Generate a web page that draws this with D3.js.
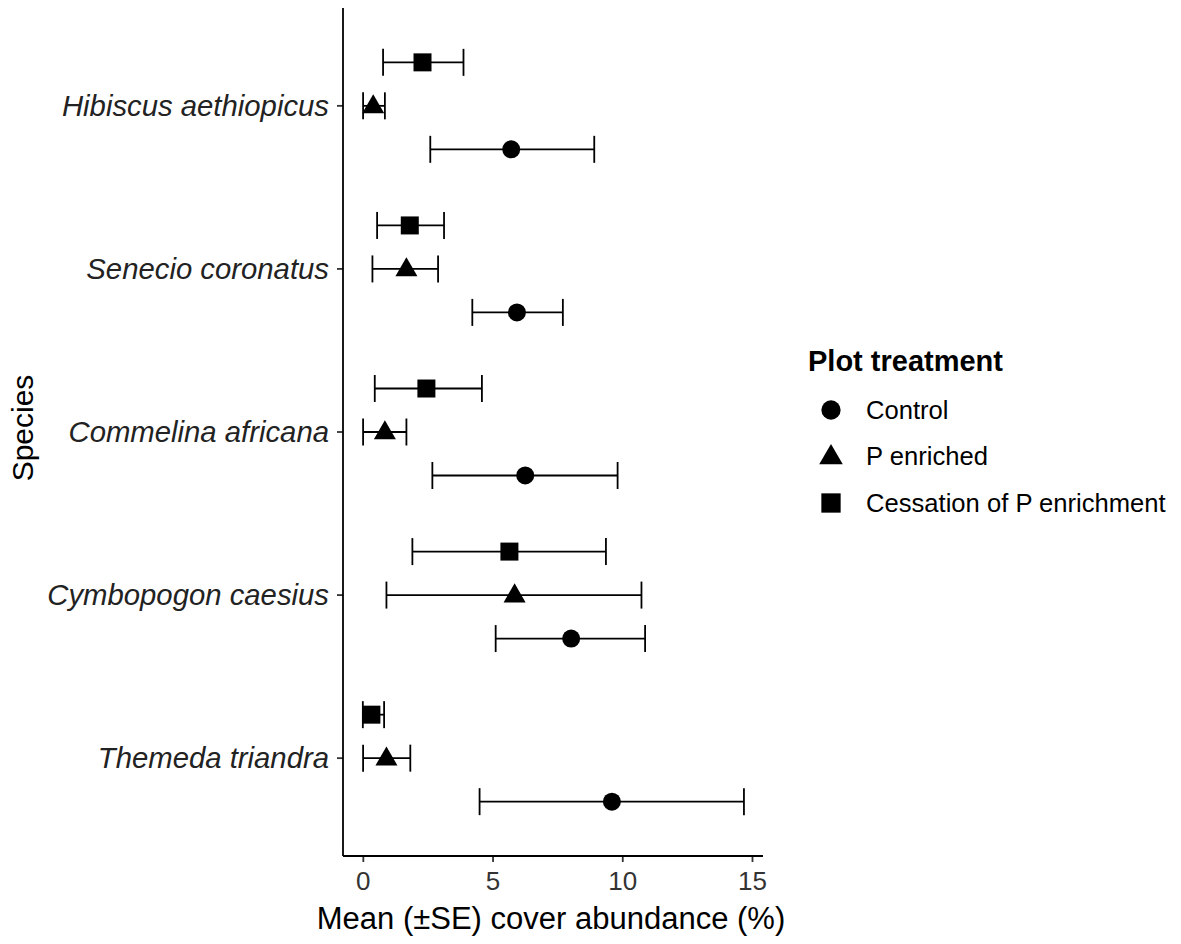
<!DOCTYPE html>
<html>
<head>
<meta charset="utf-8">
<script src="https://cdn.jsdelivr.net/npm/d3@7"></script>
<style>
  html, body { margin: 0; padding: 0; background: #fff; }
  svg { display: block; font-family: "Liberation Sans", Arial, sans-serif; }
</style>
</head>
<body>
<svg id="chart" width="1181" height="944"></svg>
<script>
// Species, top to bottom
const species = ["Hibiscus aethiopicus", "Senecio coronatus", "Commelina africana", "Cymbopogon caesius", "Themeda triandra"];
const treatments = ["Control", "P enriched", "Cessation of P enrichment"];
// Means and SE bounds per species (same order as species)
const controlMean = [5.72, 5.94, 6.26, 8.03, 9.60];
const controlLo    = [2.60, 4.22, 2.68, 5.12, 4.50];
const controlHi    = [8.92, 7.71, 9.82, 10.88, 14.69];
const pEnrMean = [0.40, 1.68, 0.85, 5.85, 0.91];
const pEnrLo   = [0.01, 0.37, 0.01, 0.91, 0.01];
const pEnrHi   = [0.85, 2.90, 1.68, 10.74, 1.83];
const cessMean = [2.30, 1.81, 2.45, 5.65, 0.33];
const cessLo   = [0.78, 0.55, 0.46, 1.91, 0.00];
const cessHi   = [3.88, 3.13, 4.59, 9.37, 0.82];
const xTicks = [0, 5, 10, 15];

const series = [
  {name: treatments[0], mean: controlMean, lo: controlLo, hi: controlHi, shape: "circle"},
  {name: treatments[1], mean: pEnrMean, lo: pEnrLo, hi: pEnrHi, shape: "triangle"},
  {name: treatments[2], mean: cessMean, lo: cessLo, hi: cessHi, shape: "square"}
];

const svg = d3.select("#chart");
const panel = {left: 343, right: 763, top: 8, bottom: 856};

const allLo = d3.min(series, s => d3.min(s.lo));
const allHi = d3.max(series, s => d3.max(s.hi));
const pad = (allHi - allLo) * 0.05;
const x = d3.scaleLinear().domain([allLo - pad - 0.03, allHi + pad]).range([panel.left, panel.right]);

// discrete y scale with ggplot-like expansion
const y = d3.scaleBand().domain(species).range([panel.top, panel.bottom]).paddingOuter(0.1).paddingInner(0);
const dodgeW = 0.8;
function yPos(sp, tIdx) {
  const c = y(sp) + y.bandwidth() / 2;
  // control at bottom, cessation at top
  const k = [1, 0, -1][tIdx];
  return c + k * (dodgeW / 3) * y.bandwidth();
}

const ink = "#000";
const sw = 1.8;

// Axes
const xAxis = d3.axisBottom(x).tickValues(xTicks).tickSize(6).tickPadding(10).tickFormat(d3.format("d"));
const gx = svg.append("g").attr("transform", `translate(0,${panel.bottom})`).call(xAxis);
gx.select(".domain").remove();
gx.append("line").attr("x1", panel.left).attr("x2", panel.right).attr("y1", 0).attr("y2", 0)
  .attr("stroke", ink).attr("stroke-width", sw);
gx.selectAll(".tick line").attr("stroke", "#333").attr("stroke-width", sw);
gx.selectAll(".tick text").attr("fill", "#333").attr("font-size", 26).attr("font-family", "Liberation Sans, Arial, sans-serif");

const yAxis = d3.axisLeft(y).tickSize(6).tickPadding(8);
const gy = svg.append("g").attr("transform", `translate(${panel.left},0)`).call(yAxis);
gy.select(".domain").remove();
gy.append("line").attr("x1", 0).attr("x2", 0).attr("y1", panel.top).attr("y2", panel.bottom)
  .attr("stroke", ink).attr("stroke-width", sw);
gy.selectAll(".tick line").attr("stroke", "#333").attr("stroke-width", sw);
gy.selectAll(".tick text").attr("fill", "#222").attr("font-size", 29.3).attr("font-style", "italic")
  .attr("font-family", "Liberation Sans, Arial, sans-serif").attr("dy", "0.34em");

// Axis titles
svg.append("text").attr("x", (panel.left + panel.right) / 2 - 2).attr("y", 929)
  .attr("text-anchor", "middle").attr("font-size", 31).attr("fill", ink)
  .text("Mean (\u00B1SE) cover abundance (%)");
svg.append("text").attr("transform", `translate(33,${(panel.top + panel.bottom) / 2 - 4}) rotate(-90)`)
  .attr("text-anchor", "middle").attr("font-size", 30).attr("fill", ink).text("Species");

// Symbols
const symSize = {circle: Math.PI * 9 * 9, triangle: 22 * 22 * Math.sqrt(3) / 4, square: 18 * 18};
const symType = {circle: d3.symbolCircle, triangle: d3.symbolTriangle, square: d3.symbolSquare};
function sym(shape, scale = 1) { return d3.symbol().type(symType[shape]).size(symSize[shape] * scale)(); }

const capH = 27;
series.forEach((s, ti) => {
  const g = svg.append("g");
  const rows = species.map((sp, i) => ({sp, m: s.mean[i], lo: s.lo[i], hi: s.hi[i], yy: yPos(sp, ti)}));
  g.selectAll("line.h").data(rows).join("line")
    .attr("x1", d => x(d.lo)).attr("x2", d => x(d.hi)).attr("y1", d => d.yy).attr("y2", d => d.yy)
    .attr("stroke", ink).attr("stroke-width", sw);
  g.selectAll("line.l").data(rows).join("line")
    .attr("x1", d => x(d.lo)).attr("x2", d => x(d.lo)).attr("y1", d => d.yy - capH / 2).attr("y2", d => d.yy + capH / 2)
    .attr("stroke", ink).attr("stroke-width", sw);
  g.selectAll("line.r").data(rows).join("line")
    .attr("x1", d => x(d.hi)).attr("x2", d => x(d.hi)).attr("y1", d => d.yy - capH / 2).attr("y2", d => d.yy + capH / 2)
    .attr("stroke", ink).attr("stroke-width", sw);
  g.selectAll("path").data(rows).join("path")
    .attr("d", sym(s.shape))
    .attr("transform", d => `translate(${x(d.m)},${d.yy + (s.shape === "triangle" ? 1 : 0)})`)
    .attr("fill", ink);
});

// Legend
const lg = svg.append("g");
lg.append("text").attr("x", 808).attr("y", 371).attr("font-size", 29).attr("font-weight", "bold").attr("fill", ink)
  .text("Plot treatment");
const legY = d3.scalePoint().domain(treatments).range([410, 503]);
treatments.forEach((t, i) => {
  lg.append("path").attr("d", sym(series[i].shape, 1.15))
    .attr("transform", `translate(831,${legY(t) + (series[i].shape === "triangle" ? 1 : 0)})`).attr("fill", ink);
  lg.append("text").attr("x", 866).attr("y", legY(t)).attr("dy", "0.35em")
    .attr("font-size", 25.6).attr("fill", ink).text(t);
});
</script>
</body>
</html>
